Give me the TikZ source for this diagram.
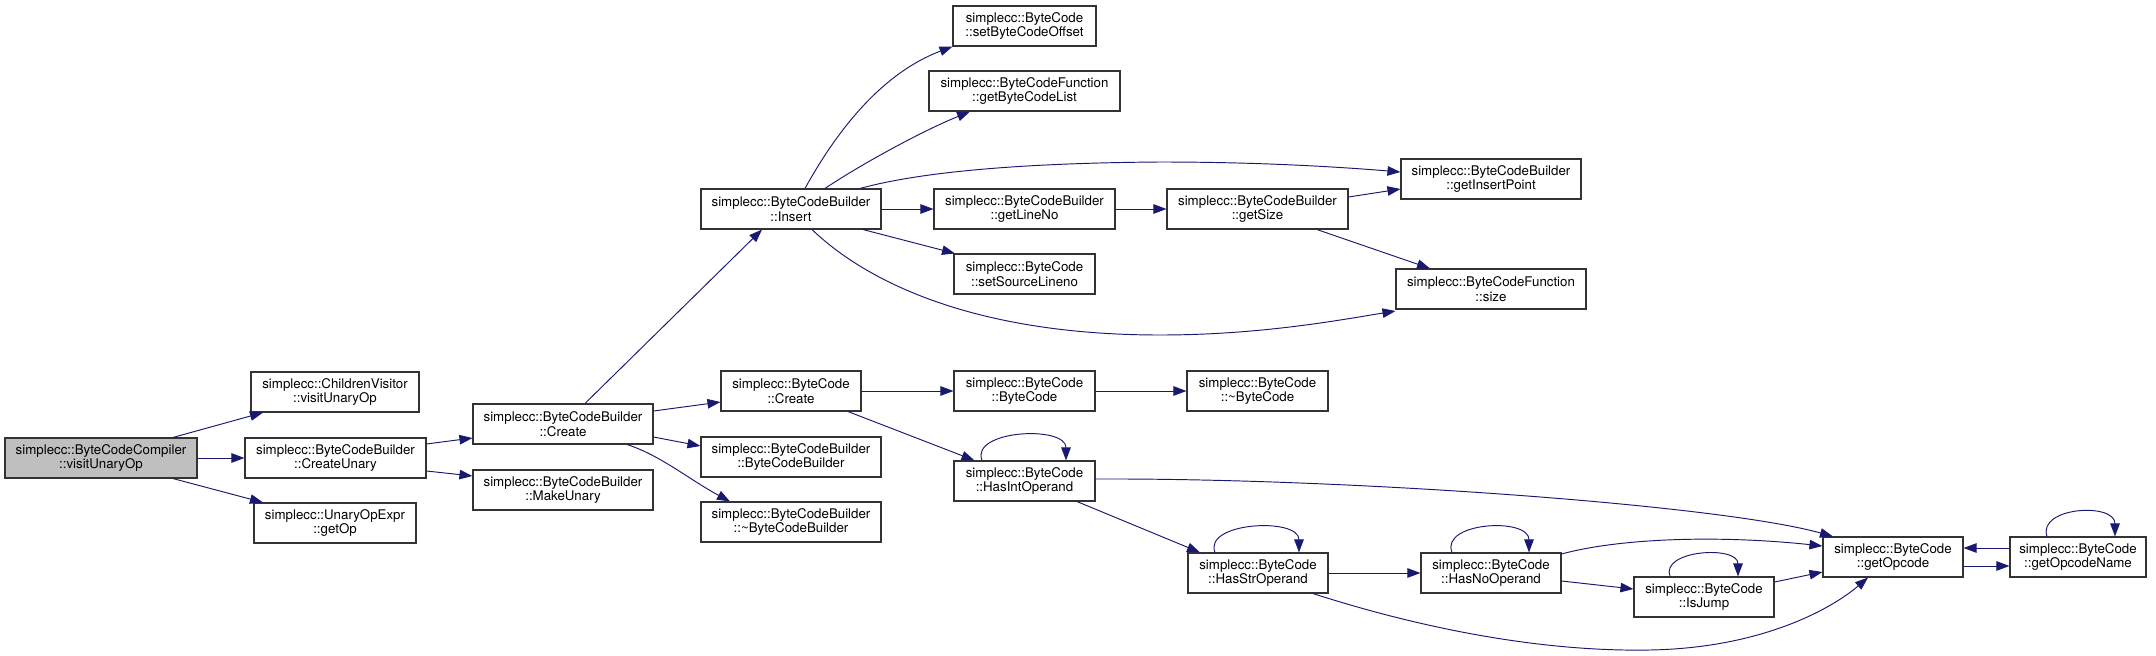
\documentclass[tikz,border=0pt]{standalone}
\usepackage{fontspec}
\setmainfont{TeX Gyre Heros}
\usetikzlibrary{arrows.meta}
\definecolor{edgecol}{HTML}{191970}
\definecolor{rootfill}{HTML}{BFBFBF}
\definecolor{boxline}{HTML}{333333}
\tikzset{
  fnbox/.style={draw=boxline, line width=1.1pt, rectangle, minimum height=40pt, inner sep=0pt,
    align=center, font=\fontsize{13.3}{14.5}\selectfont},
  cline/.style={draw=edgecol, line width=0.95pt, -{Triangle[length=13pt,width=9.5pt]}},
}
\begin{document}
\begin{tikzpicture}[x=1pt,y=-1pt]
\useasboundingbox (0,0) rectangle (2156,656);
% nodes
\node[fnbox, fill=rootfill, minimum width=192pt] (root) at (101,458) {simplecc::ByteCodeCompiler\\::visitUnaryOp};
\node[fnbox, minimum width=168pt] (cv) at (335,392) {simplecc::ChildrenVisitor\\::visitUnaryOp};
\node[fnbox, minimum width=181pt] (cu) at (335.5,458) {simplecc::ByteCodeBuilder\\::CreateUnary};
\node[fnbox, minimum width=162pt] (gop) at (335,523) {simplecc::UnaryOpExpr\\::getOp};
\node[fnbox, minimum width=180pt] (bcbc) at (563,424) {simplecc::ByteCodeBuilder\\::Create};
\node[fnbox, minimum width=180pt] (mu) at (563,490) {simplecc::ByteCodeBuilder\\::MakeUnary};
\node[fnbox, minimum width=140pt] (bcc) at (791,391) {simplecc::ByteCode\\::Create};
\node[fnbox, minimum width=180pt] (bcbctor) at (791,457) {simplecc::ByteCodeBuilder\\::ByteCodeBuilder};
\node[fnbox, minimum width=180pt] (bcbdtor) at (791,522) {simplecc::ByteCodeBuilder\\::\textasciitilde ByteCodeBuilder};
\node[fnbox, minimum width=180pt] (ins) at (791,209) {simplecc::ByteCodeBuilder\\::Insert};
\node[fnbox, minimum width=143pt] (sbco) at (1024.5,26) {simplecc::ByteCode\\::setByteCodeOffset};
\node[fnbox, minimum width=191pt] (gbcl) at (1024.5,91) {simplecc::ByteCodeFunction\\::getByteCodeList};
\node[fnbox, minimum width=181pt] (gln) at (1024.5,209) {simplecc::ByteCodeBuilder\\::getLineNo};
\node[fnbox, minimum width=141pt] (ssl) at (1024.5,274) {simplecc::ByteCode\\::setSourceLineno};
\node[fnbox, minimum width=141pt] (bcctor) at (1024.5,391) {simplecc::ByteCode\\::ByteCode};
\node[fnbox, minimum width=141pt] (hio) at (1024.5,481) {simplecc::ByteCode\\::HasIntOperand};
\node[fnbox, minimum width=181pt] (gs) at (1257.5,209) {simplecc::ByteCodeBuilder\\::getSize};
\node[fnbox, minimum width=141pt] (bcdtor) at (1257.5,391) {simplecc::ByteCode\\::\textasciitilde ByteCode};
\node[fnbox, minimum width=140pt] (hso) at (1258,573) {simplecc::ByteCode\\::HasStrOperand};
\node[fnbox, minimum width=180pt] (gip) at (1491,179) {simplecc::ByteCodeBuilder\\::getInsertPoint};
\node[fnbox, minimum width=190pt] (size) at (1491,289) {simplecc::ByteCodeFunction\\::size};
\node[fnbox, minimum width=140pt] (hno) at (1491,573) {simplecc::ByteCode\\::HasNoOperand};
\node[fnbox, minimum width=140pt] (ij) at (1704,597) {simplecc::ByteCode\\::IsJump};
\node[fnbox, minimum width=140pt] (goc) at (1893,557) {simplecc::ByteCode\\::getOpcode};
\node[fnbox, minimum width=136pt] (gon) at (2078,557) {simplecc::ByteCode\\::getOpcodeName};
% edges
\draw[cline] ([xshift=72pt]root.north) -- ([xshift=-72pt]cv.south);
\draw[cline] (root.east) -- (cu.west);
\draw[cline] ([xshift=72pt]root.south) -- ([xshift=-72pt]gop.north);
\draw[cline] ([yshift=14pt]cu.east) -- ([yshift=-14pt]bcbc.west);
\draw[cline] ([yshift=-13pt]cu.east) -- ([yshift=14pt]mu.west);
\draw[cline] ([xshift=22pt]bcbc.north) -- ([xshift=-29pt]ins.south);
\draw[cline] ([yshift=13pt]bcbc.east) -- ([yshift=-11pt]bcc.west);
\draw[cline] ([yshift=-13pt]bcbc.east) -- ([yshift=11pt]bcbctor.west);
\draw[cline] ([xshift=64pt]bcbc.south) .. controls (660,455) and (690,480) .. ([xshift=-61pt]bcbdtor.north);
\draw[cline] ([xshift=14pt]ins.north) .. controls (840,125) and (885,72) .. ([xshift=-72pt]sbco.south);
\draw[cline] ([xshift=34pt]ins.north) .. controls (860,165) and (920,132) .. ([xshift=-54.5pt]gbcl.south);
\draw[cline] ([xshift=69pt]ins.north) .. controls (920,172) and (1020,163) .. (1160,162)
   .. controls (1260,162) and (1340,167) .. ([yshift=7pt]gip.west);
\draw[cline] (ins.east) -- (gln.west);
\draw[cline] ([xshift=72pt]ins.south) -- ([xshift=-69.5pt]ssl.north);
\draw[cline] ([xshift=21pt]ins.south) .. controls (870,285) and (980,335) .. (1160,335)
   .. controls (1260,335) and (1340,320) .. ([yshift=-22pt]size.west);
\draw[cline] (gln.east) -- (gs.west);
\draw[cline] ([yshift=12pt]gs.east) -- ([yshift=-10pt]gip.west);
\draw[cline] ([xshift=59.5pt]gs.south) -- ([xshift=-61pt]size.north);
\draw[cline] (bcc.east) -- (bcctor.west);
\draw[cline] ([xshift=57pt]bcc.south) -- ([xshift=-50pt]hio.north);
\draw[cline] (bcctor.east) -- (bcdtor.west);
\draw[cline] ([xshift=-42.5pt]hio.north) .. controls (970,430) and (1066,425) .. ([xshift=41.5pt]hio.north);
\draw[cline] ([yshift=2pt]hio.east) .. controls (1350,478) and (1720,505) .. ([xshift=-60pt]goc.north);
\draw[cline] ([xshift=52.5pt]hio.south) -- ([xshift=-58pt]hso.north);
\draw[cline] ([xshift=-43pt]hso.north) .. controls (1203,522) and (1299,517) .. ([xshift=41pt]hso.north);
\draw[cline] (hso.east) -- (hno.west);
\draw[cline] ([xshift=55pt]hso.south) .. controls (1420,628) and (1540,652) .. (1650,650)
   .. controls (1760,648) and (1830,610) .. ([xshift=-25pt]goc.south);
\draw[cline] ([xshift=-39pt]hno.north) .. controls (1440,522) and (1529,517) .. ([xshift=38pt]hno.north);
\draw[cline] ([yshift=19pt]hno.east) .. controls (1620,538) and (1720,535) .. ([yshift=11pt]goc.west);
\draw[cline] ([yshift=-8pt]hno.east) -- ([yshift=8pt]ij.west);
\draw[cline] ([xshift=-34pt]ij.north) .. controls (1660,550) and (1738,545) .. ([xshift=34pt]ij.north);
\draw[cline] ([yshift=15pt]ij.east) -- ([yshift=-15pt]goc.west);
\draw[cline] ([yshift=-9pt]goc.east) -- ([yshift=-9pt]gon.west);
\draw[cline] ([yshift=9pt]gon.west) -- ([yshift=9pt]goc.east);
\draw[cline] ([xshift=-31pt]gon.north) .. controls (2037,507) and (2115,502) .. ([xshift=37pt]gon.north);
\end{tikzpicture}
\end{document}
